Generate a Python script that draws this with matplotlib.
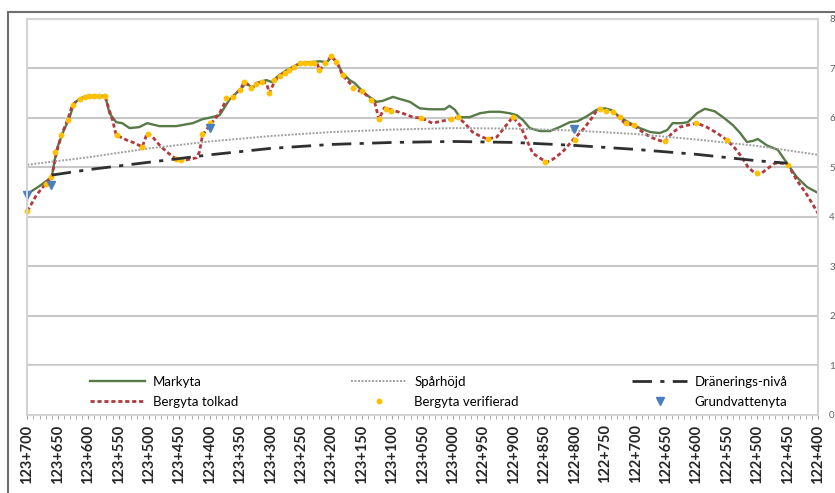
import matplotlib
matplotlib.use("Agg")
import matplotlib.pyplot as plt
from matplotlib.patches import Rectangle

plt.rcParams['font.family'] = ['Lato', 'DejaVu Sans']

# sektion (m), läses från vänster 123+700 till höger 122+400
mark_km = [123700, 123680, 123660, 123652, 123642, 123631, 123623, 123611, 123603, 123572,
           123565, 123554, 123544, 123532, 123516, 123503, 123483, 123455, 123428, 123412,
           123397, 123384, 123368, 123346, 123340, 123330, 123318, 123307, 123298, 123290,
           123274, 123252, 123236, 123219, 123208, 123200, 123191, 123182, 123170, 123162,
           123154, 123142, 123126, 123116, 123099, 123088, 123071, 123055, 123038, 123014,
           123006, 122997, 122989, 122973, 122956, 122940, 122923, 122907, 122895, 122885,
           122874, 122857, 122841, 122825, 122808, 122795, 122780, 122764, 122750, 122739,
           122726, 122709, 122693, 122676, 122660, 122648, 122639, 122624, 122614, 122599,
           122586, 122570, 122556, 122540, 122528, 122517, 122507, 122499, 122484, 122474,
           122466, 122451, 122435, 122418, 122400]
mark_y = [4.46, 4.62, 4.80, 5.35, 5.69, 5.99, 6.30, 6.40, 6.44, 6.44,
          6.09, 5.91, 5.89, 5.79, 5.81, 5.89, 5.83, 5.83, 5.89, 5.97,
          6.01, 6.05, 6.36, 6.62, 6.70, 6.60, 6.72, 6.76, 6.72, 6.82,
          6.96, 7.10, 7.12, 7.14, 7.12, 7.22, 7.12, 6.90, 6.76, 6.70,
          6.60, 6.46, 6.32, 6.34, 6.42, 6.38, 6.32, 6.19, 6.17, 6.17,
          6.24, 6.16, 6.01, 6.01, 6.09, 6.12, 6.12, 6.09, 6.05, 5.95,
          5.79, 5.73, 5.73, 5.81, 5.91, 5.93, 6.03, 6.16, 6.19, 6.15,
          6.01, 5.89, 5.79, 5.71, 5.69, 5.75, 5.89, 5.89, 5.91, 6.09,
          6.18, 6.13, 6.01, 5.85, 5.69, 5.51, 5.53, 5.57, 5.44, 5.39,
          5.35, 5.08, 4.80, 4.60, 4.48]

berg_km = [123700, 123685, 123669, 123660, 123652, 123644, 123634, 123626, 123614, 123603,
           123572, 123567, 123560, 123554, 123537, 123524, 123511, 123503, 123494, 123483,
           123471, 123458, 123450, 123438, 123422, 123417, 123412, 123400, 123384, 123373,
           123363, 123351, 123343, 123331, 123323, 123313, 123307, 123302, 123294, 123285,
           123269, 123252, 123239, 123224, 123219, 123211, 123200, 123191, 123182, 123170,
           123159, 123149, 123137, 123129, 123122, 123113, 123099, 123083, 123066, 123052,
           123034, 123019, 123002, 122992, 122981, 122968, 122953, 122943, 122928, 122915,
           122902, 122890, 122879, 122869, 122854, 122846, 122836, 122820, 122803, 122787,
           122772, 122762, 122747, 122737, 122726, 122718, 122704, 122693, 122676, 122663,
           122652, 122640, 122627, 122614, 122599, 122583, 122566, 122550, 122537, 122525,
           122515, 122504, 122495, 122482, 122471, 122458, 122449, 122435, 122418, 122400]
berg_y = [4.11, 4.44, 4.68, 4.80, 5.30, 5.65, 5.95, 6.26, 6.38, 6.42,
          6.42, 6.22, 5.95, 5.65, 5.55, 5.49, 5.41, 5.69, 5.61, 5.45,
          5.31, 5.19, 5.15, 5.15, 5.19, 5.31, 5.65, 5.85, 6.09, 6.36,
          6.42, 6.56, 6.72, 6.60, 6.70, 6.72, 6.70, 6.50, 6.72, 6.86,
          6.96, 7.10, 7.10, 7.10, 6.96, 7.10, 7.24, 7.12, 6.86, 6.70,
          6.56, 6.52, 6.40, 6.32, 5.97, 6.20, 6.15, 6.09, 6.01, 5.99,
          5.89, 5.93, 5.97, 6.01, 5.89, 5.71, 5.61, 5.57, 5.61, 5.81,
          6.01, 5.85, 5.55, 5.28, 5.16, 5.10, 5.16, 5.31, 5.55, 5.75,
          5.99, 6.18, 6.13, 6.11, 6.01, 5.89, 5.85, 5.75, 5.61, 5.55,
          5.51, 5.69, 5.81, 5.85, 5.89, 5.81, 5.69, 5.55, 5.39, 5.20,
          5.00, 4.88, 4.86, 4.98, 5.08, 5.08, 5.04, 4.74, 4.44, 4.07]

verif_km = [123700, 123669, 123661, 123654, 123645, 123634, 123625, 123614, 123606, 123598,
            123590, 123582, 123573, 123553, 123511, 123502, 123455, 123447, 123413, 123400,
            123373, 123362, 123351, 123343, 123332, 123324, 123315, 123302, 123294, 123285,
            123277, 123269, 123261, 123252, 123244, 123236, 123228, 123221, 123211, 123200,
            123192, 123181, 123165, 123149, 123135, 123122, 123110, 123102, 123052, 123003,
            122992, 122943, 122901, 122849, 122800, 122759, 122748, 122737, 122726, 122715,
            122703, 122652, 122600, 122550, 122501, 122449]
verif_y = [4.12, 4.67, 4.81, 5.31, 5.65, 5.95, 6.26, 6.37, 6.42, 6.44,
           6.44, 6.44, 6.44, 5.65, 5.41, 5.68, 5.16, 5.15, 5.68, 5.89,
           6.39, 6.42, 6.56, 6.73, 6.59, 6.69, 6.73, 6.49, 6.76, 6.84,
           6.90, 6.96, 7.03, 7.10, 7.11, 7.11, 7.10, 6.96, 7.11, 7.25,
           7.13, 6.86, 6.60, 6.53, 6.36, 5.97, 6.17, 6.14, 5.99, 5.97,
           6.02, 5.56, 6.02, 5.11, 5.55, 6.17, 6.14, 6.11, 6.02, 5.89,
           5.85, 5.52, 5.89, 5.55, 4.89, 5.04]

grund_km = [123700, 123661, 123400, 122801]
grund_y = [4.44, 4.64, 5.80, 5.77]

spar_km = [123700, 123600, 123500, 123400, 123300, 123200, 123100, 123000,
           122900, 122800, 122700, 122600, 122500, 122400]
spar_y = [5.05, 5.20, 5.38, 5.52, 5.63, 5.71, 5.76, 5.79, 5.78, 5.74, 5.67, 5.56, 5.43, 5.25]

dran_km = [123660, 123600, 123500, 123400, 123300, 123200, 123100, 123000,
           122900, 122800, 122700, 122600, 122500, 122450]
dran_y = [4.84, 4.95, 5.10, 5.25, 5.38, 5.46, 5.50, 5.52, 5.50, 5.44, 5.36, 5.26, 5.13, 5.08]

tick_km = list(range(123700, 122399, -50))
tick_labels = [f"{k // 1000}+{k % 1000:03d}" for k in tick_km]

fig = plt.figure(figsize=(8.35, 4.93), dpi=100)
ax = fig.add_axes([27 / 835, 1 - 414.7 / 493, (818 - 27) / 835, (414.7 - 18.7) / 493])

ax.plot(mark_km, mark_y, color='#587a48', lw=1.7, label='Markyta')
ax.plot(berg_km, berg_y, color='#b23a3e', lw=2, ls=(0, (1.5, 1)), label='Bergyta tolkad')
ax.plot(spar_km, spar_y, color='#a0a0a0', lw=1.4, ls=(0, (1, 0.8)), label='Spårhöjd')
ax.plot(verif_km, verif_y, ls='none', marker='o', ms=3.2, color='#ffc000',
        label='Bergyta verifierad', clip_on=False)
ax.plot(dran_km, dran_y, color='#303030', lw=2, ls=(0, (7, 3, 1.5, 3)), label='Dränerings-nivå')
ax.plot(grund_km, grund_y, ls='none', marker='v', ms=6, color='#4a7ec0',
        label='Grundvattenyta', clip_on=False)

ax.set_xlim(123700.6, 122400)
ax.set_ylim(0, 8)
ax.set_xticks(tick_km)
ax.set_xticklabels(tick_labels, rotation=90, fontsize=10.5, fontweight='bold', color='#262626')
ax.set_xticks(range(122400, 123701, 10), minor=True)
ax.tick_params(axis='x', which='both', length=3, color='#a0a0a0', pad=4)
ax.yaxis.tick_right()
ax.set_yticks(range(0, 9))
ax.tick_params(axis='y', length=0, pad=8, labelsize=7, labelcolor='#606060')
ax.grid(axis='y', color='#c8c8c8', lw=1.5)
ax.set_axisbelow(True)
for s in ax.spines.values():
    s.set_color('#d4d4d4')
    s.set_linewidth(1.5)

# vit legendruta över nedre delen av diagrammet
ax.add_patch(Rectangle((0, 0), 1, (414.7 - 365) / 396, transform=ax.transAxes,
                       facecolor='white', edgecolor='#c8c8c8', lw=1.2, zorder=4))
leg = ax.legend(loc='lower left', bbox_to_anchor=((90 - 27) / 791, 0.018), ncol=3,
                fontsize=9.5, frameon=False, handlelength=4.2, handletextpad=0.55,
                columnspacing=8.6, borderpad=0, labelspacing=0.6, borderaxespad=0)
leg.set_zorder(5)

# yttre ram
fig.add_artist(Rectangle((8 / 835, -0.1), 1.2, 1 - 12 / 493 + 0.1, transform=fig.transFigure,
                         fill=False, edgecolor='#6e6e6e', lw=1.5))

fig.savefig('out.png', dpi=100)
